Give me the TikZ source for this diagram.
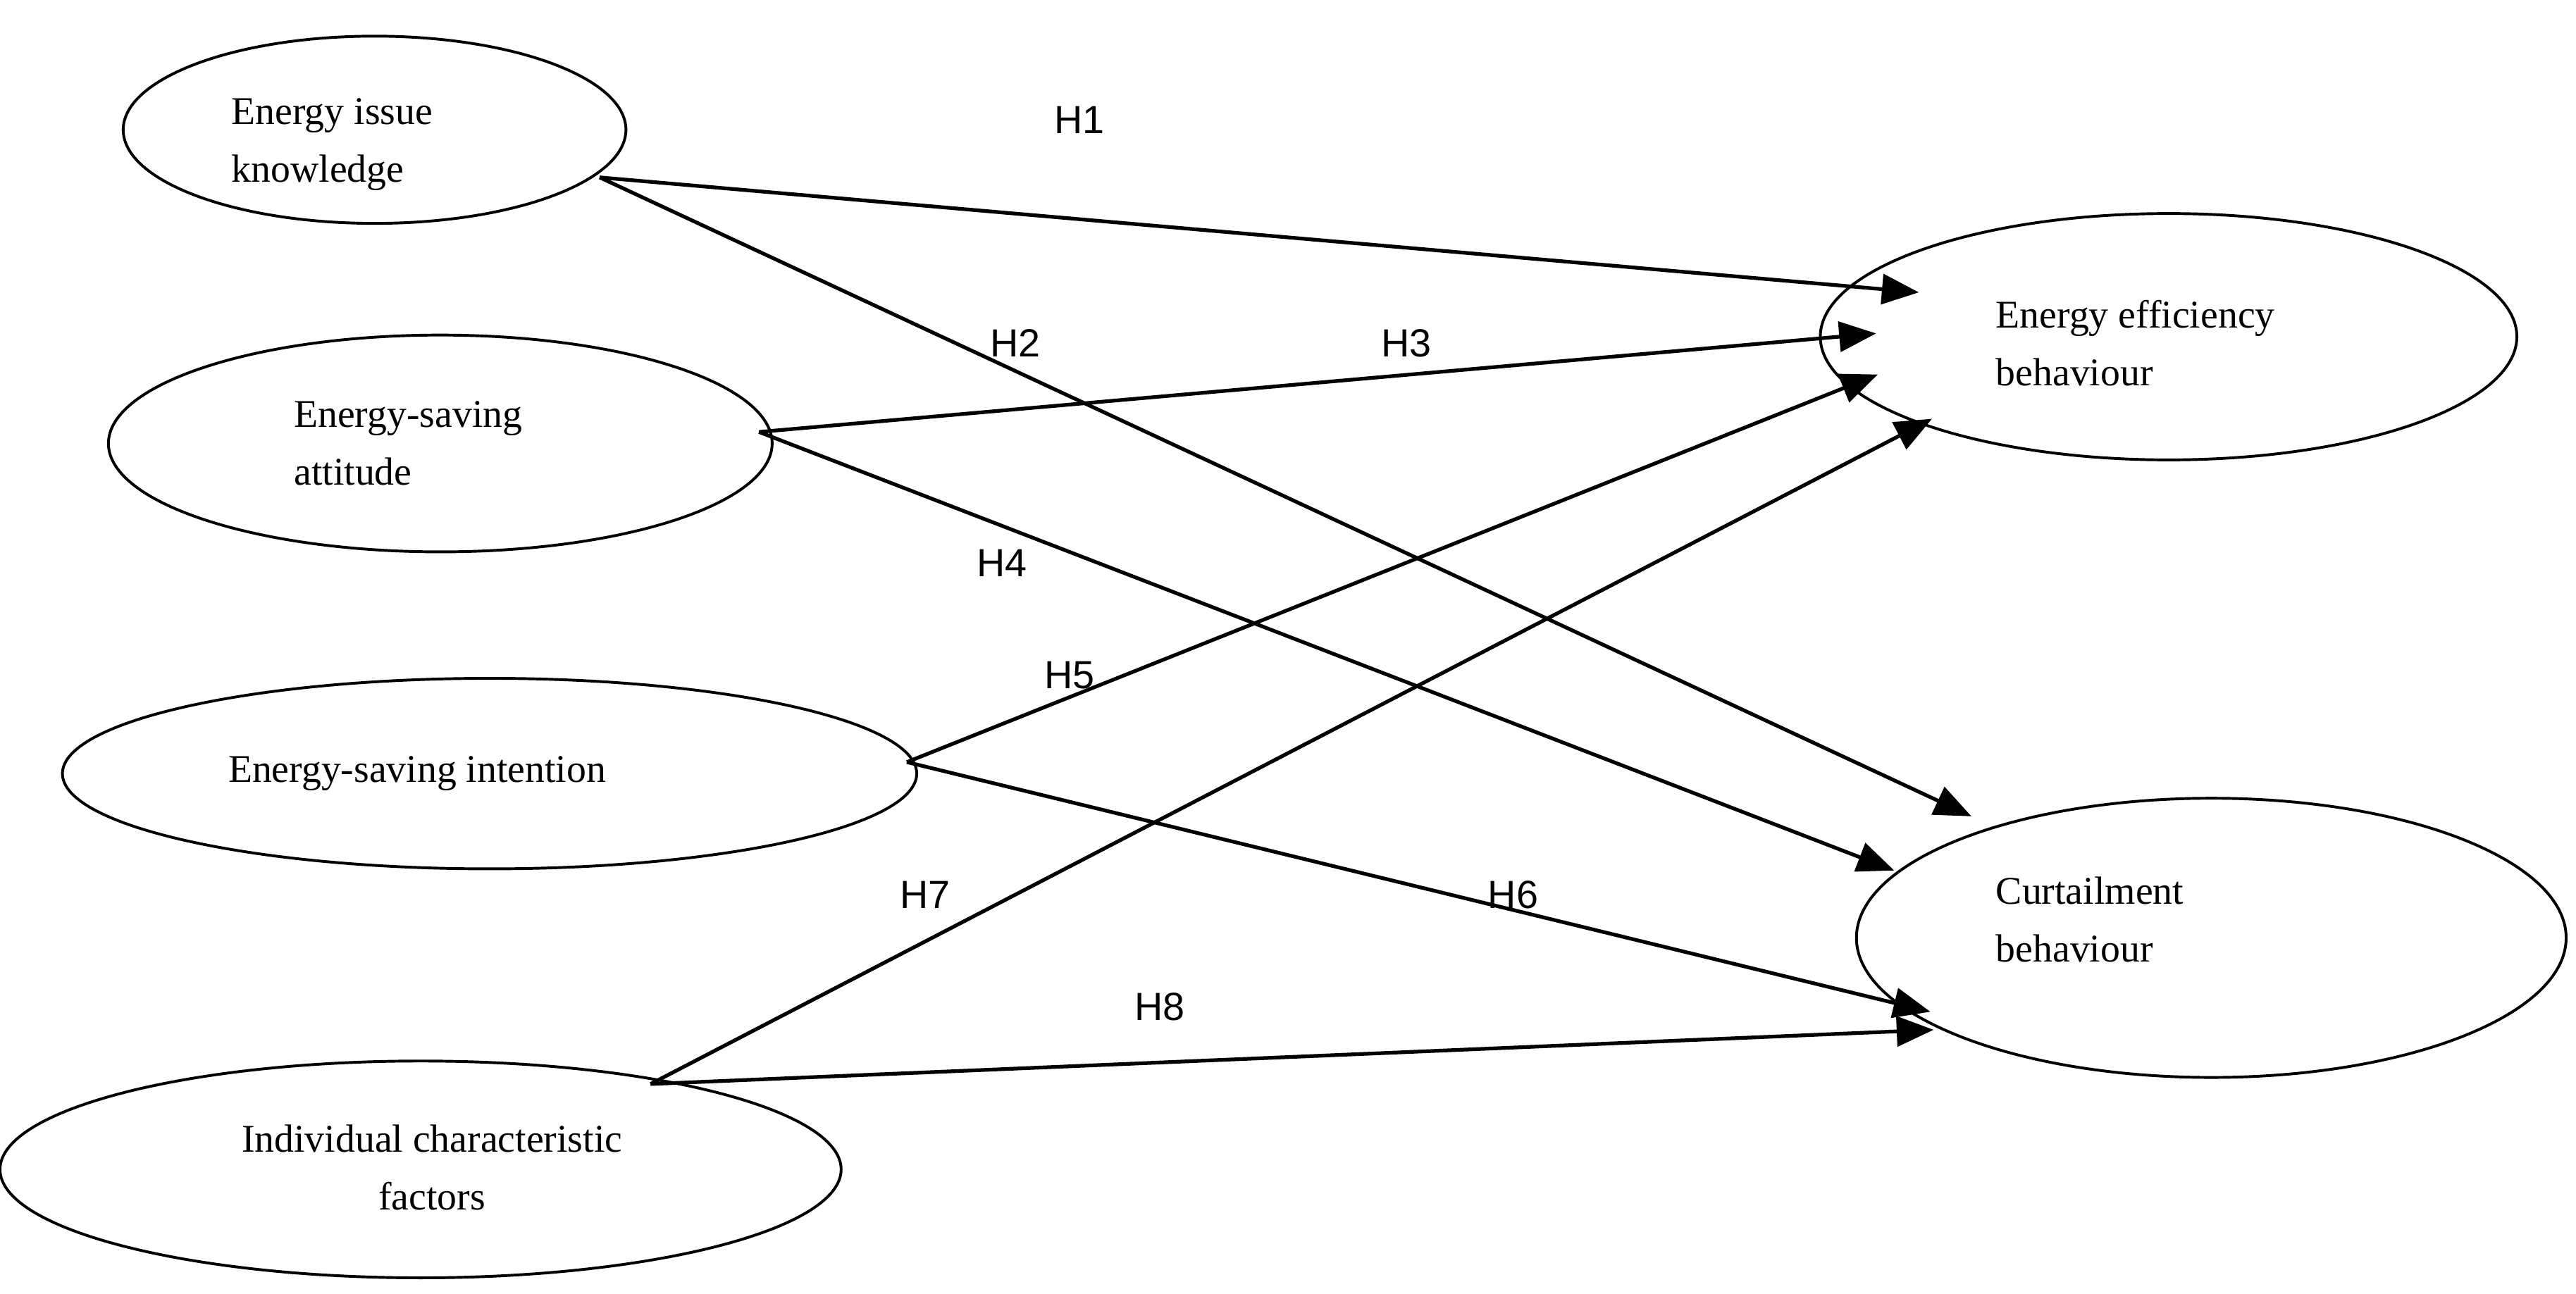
\documentclass[tikz,border=0pt]{standalone}
\usepackage{fontspec}
\setmainfont{Liberation Serif}
\newfontfamily\lab{Liberation Sans}
\usetikzlibrary{arrows.meta}
\begin{document}
\begin{tikzpicture}[x=0.025cm,y=-0.025cm,
  ell/.style={draw,line width=1.2pt},
  txt/.style={font=\fontsize{17}{25}\selectfont,align=left,anchor=west},
  hl/.style={font=\lab\fontsize{17}{20}\selectfont},
  arr/.style={line width=1.6pt,-{Triangle[length=16pt,width=13pt]}}]
\useasboundingbox (0,0) rectangle (1568,787.5);
\draw[ell] (228,79) ellipse (153 and 57);
\draw[ell] (268,270) ellipse (202 and 66);
\draw[ell] (298,471) ellipse (260 and 58);
\draw[ell] (256,712) ellipse (256 and 66);
\draw[ell] (1320,205) ellipse (212 and 75);
\draw[ell] (1346,571) ellipse (216 and 85);
\node[txt] (t1) at (136,88) {Energy issue\\knowledge};
\node[txt] (t2) at (174,270) {Energy-saving\\attitude};
\node[txt] (t3) at (134,471) {Energy-saving intention};
\node[txt,align=center,anchor=center] (t4) at (263,711) {Individual characteristic\\factors};
\node[txt] (t5) at (1210,209) {Energy efficiency\\behaviour};
\node[txt] (t6) at (1210,560) {Curtailment\\behaviour};
\coordinate (s1) at (365,108);
\coordinate (s2) at (462,263);
\coordinate (s3) at (552,464);
\coordinate (s4) at (396,660);
\coordinate (e1) at (1168,178);
\coordinate (e2) at (1200,497);
\coordinate (e3) at (1142,203);
\coordinate (e4) at (1153,530);
\coordinate (e5) at (1143,228);
\coordinate (e6) at (1175,616);
\coordinate (e7) at (1176,255);
\coordinate (e8) at (1177,627);
\draw[arr] (s1) -- (e1);
\draw[arr] (s1) -- (e2);
\draw[arr] (s2) -- (e3);
\draw[arr] (s2) -- (e4);
\draw[arr] (s3) -- (e5);
\draw[arr] (s3) -- (e6);
\draw[arr] (s4) -- (e7);
\draw[arr] (s4) -- (e8);
\node[hl] (h1) at (657,73) {H1};
\node[hl] (h2) at (618,209) {H2};
\node[hl] (h3) at (856,209) {H3};
\node[hl] (h4) at (610,343) {H4};
\node[hl] (h5) at (651,411) {H5};
\node[hl] (h6) at (921,545) {H6};
\node[hl] (h7) at (563,545) {H7};
\node[hl] (h8) at (706,613) {H8};
\end{tikzpicture}
\end{document}
